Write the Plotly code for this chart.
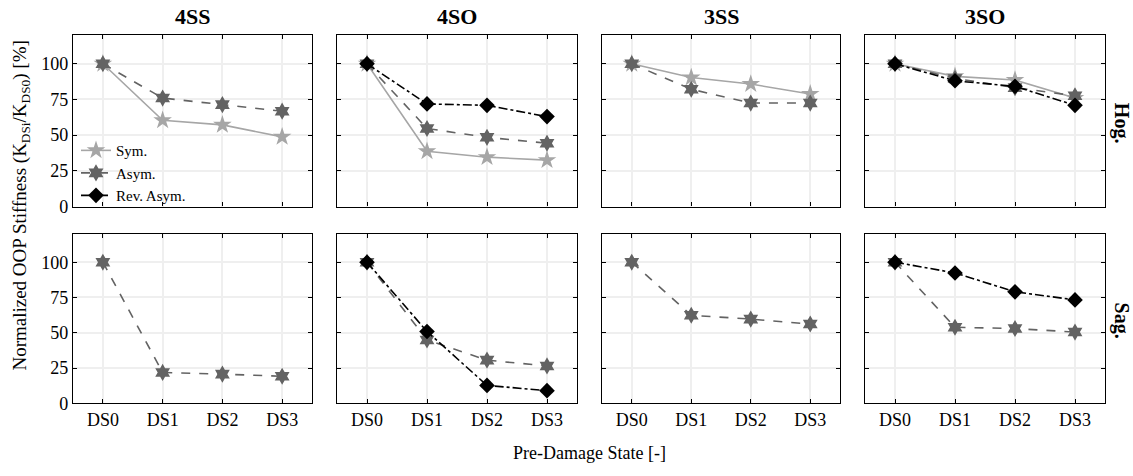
import plotly.graph_objects as go
from plotly.subplots import make_subplots

states = ["DS0", "DS1", "DS2", "DS3"]
columns = ["4SS", "4SO", "3SS", "3SO"]
rows = ["Hog.", "Sag."]

# Hogging (top row)
hog_sym = {"4SS": [100, 60.4, 57.2, 48.8], "4SO": [100, 38.7, 34.6, 32.5],
           "3SS": [100, 90.4, 85.8, 78.9], "3SO": [100, 91.2, 88.6, 76.0]}
hog_asym = {"4SS": [100, 76.0, 71.4, 66.8], "4SO": [100, 54.7, 48.5, 44.4],
            "3SS": [100, 82.2, 72.5, 72.5], "3SO": [100, 89.7, 83.3, 77.6]}
hog_rev = {"4SO": [100, 71.9, 70.9, 63.0], "3SO": [100, 88.1, 84.2, 70.9]}

# Sagging (bottom row)
sag_asym = {"4SS": [100, 21.9, 20.7, 19.2], "4SO": [100, 44.9, 30.6, 26.5],
            "3SS": [100, 62.4, 59.7, 56.2], "3SO": [100, 53.9, 53.0, 50.5]}
sag_rev = {"4SO": [100, 50.9, 12.7, 9.0], "3SO": [100, 92.4, 79.0, 73.3]}

W, H = 1133, 476
FONT = "Liberation Serif"

sty = {
    "Sym.": dict(color="#a6a6a6", dash="solid", symbol="star", size=14),
    "Asym.": dict(color="#636363", dash="dash", symbol="hexagram", size=13),
    "Rev. Asym.": dict(color="#000000", dash="dashdot", symbol="diamond", size=12),
}

fig = make_subplots(rows=2, cols=4)

xdom = [(73, 312), (337, 577), (602, 840), (865, 1105)]
ydom = [(36, 211), (239, 412)]

shown = set()


def add(name, vals, r, c):
    s = sty[name]
    fig.add_trace(go.Scatter(
        x=states, y=vals, mode="lines+markers", name=name,
        legendgroup=name, showlegend=name not in shown,
        line=dict(color=s["color"], dash=s["dash"], width=1.6),
        marker=dict(symbol=s["symbol"], size=s["size"], color=s["color"],
                    line=dict(width=0)),
    ), row=r, col=c)
    shown.add(name)


for ci, col in enumerate(columns):
    c = ci + 1
    if col in hog_sym:
        add("Sym.", hog_sym[col], 1, c)
    if col in hog_asym:
        add("Asym.", hog_asym[col], 1, c)
    if col in hog_rev:
        add("Rev. Asym.", hog_rev[col], 1, c)
    if col in sag_asym:
        add("Asym.", sag_asym[col], 2, c)
    if col in sag_rev:
        add("Rev. Asym.", sag_rev[col], 2, c)

for r in (1, 2):
    for c in range(1, 5):
        fig.add_hline(y=100, line=dict(color="black", width=1.2), row=r, col=c, layer="below")

for r in (1, 2):
    for c in range(1, 5):
        x0, x1 = xdom[c - 1]
        y0, y1 = ydom[r - 1]
        fig.update_xaxes(
            domain=[x0 / W, x1 / W], range=[-0.5, 3.5],
            showgrid=True, gridcolor="#efefef", gridwidth=2,
            showline=True, linecolor="black", linewidth=1.2, mirror="ticks",
            ticks="inside", ticklen=4, tickcolor="black",
            showticklabels=(r == 2), tickfont=dict(family=FONT, size=18, color="black"),
            zeroline=False, fixedrange=True,
            row=r, col=c)
        fig.update_yaxes(
            domain=[1 - y1 / H, 1 - y0 / H], range=[0, 120],
            tickvals=[0, 25, 50, 75, 100],
            showgrid=True, gridcolor="#efefef", gridwidth=2,
            showline=True, linecolor="black", linewidth=1.2, mirror="ticks",
            ticks="inside", ticklen=4, tickcolor="black",
            showticklabels=(c == 1), tickfont=dict(family=FONT, size=18, color="black"),
            zeroline=False, fixedrange=True,
            row=r, col=c)

annotations = []
for ci, col in enumerate(columns):
    x0, x1 = xdom[ci]
    annotations.append(dict(text="<b>" + col + "</b>", x=(x0 + x1) / 2 / W, y=1 - 17 / H,
                            xref="paper", yref="paper", showarrow=False,
                            xanchor="center", yanchor="middle",
                            font=dict(family=FONT, size=22, color="black")))
for ri, rl in enumerate(rows):
    y0, y1 = ydom[ri]
    annotations.append(dict(text="<b>" + rl + "</b>", x=1121 / W, y=1 - ((y0 + y1) / 2 + 2) / H,
                            xref="paper", yref="paper", showarrow=False, textangle=90,
                            xanchor="center", yanchor="middle",
                            font=dict(family=FONT, size=20, color="black")))
annotations.append(dict(text="Normalized OOP Stiffness (K<sub>DSi</sub>/K<sub>DS0</sub>) [%]",
                        x=21 / W, y=1 - 210 / H, xref="paper", yref="paper",
                        showarrow=False, textangle=-90,
                        xanchor="center", yanchor="middle",
                        font=dict(family=FONT, size=19, color="black")))
annotations.append(dict(text="Pre-Damage State [-]", x=589 / W, y=1 - 463 / H,
                        xref="paper", yref="paper", showarrow=False,
                        xanchor="center", yanchor="middle",
                        font=dict(family=FONT, size=18, color="black")))

fig.update_layout(
    width=W, height=H, margin=dict(l=0, r=0, t=0, b=0),
    paper_bgcolor="white", plot_bgcolor="white",
    annotations=annotations,
    showlegend=True,
    legend=dict(x=76 / W, y=1 - 137 / H, xanchor="left", yanchor="top",
                bgcolor="rgba(255,255,255,0)", borderwidth=0,
                font=dict(family=FONT, size=15, color="black"),
                itemwidth=30, tracegroupgap=0),
    font=dict(family=FONT, color="black"),
)

fig.write_html("out.html")
